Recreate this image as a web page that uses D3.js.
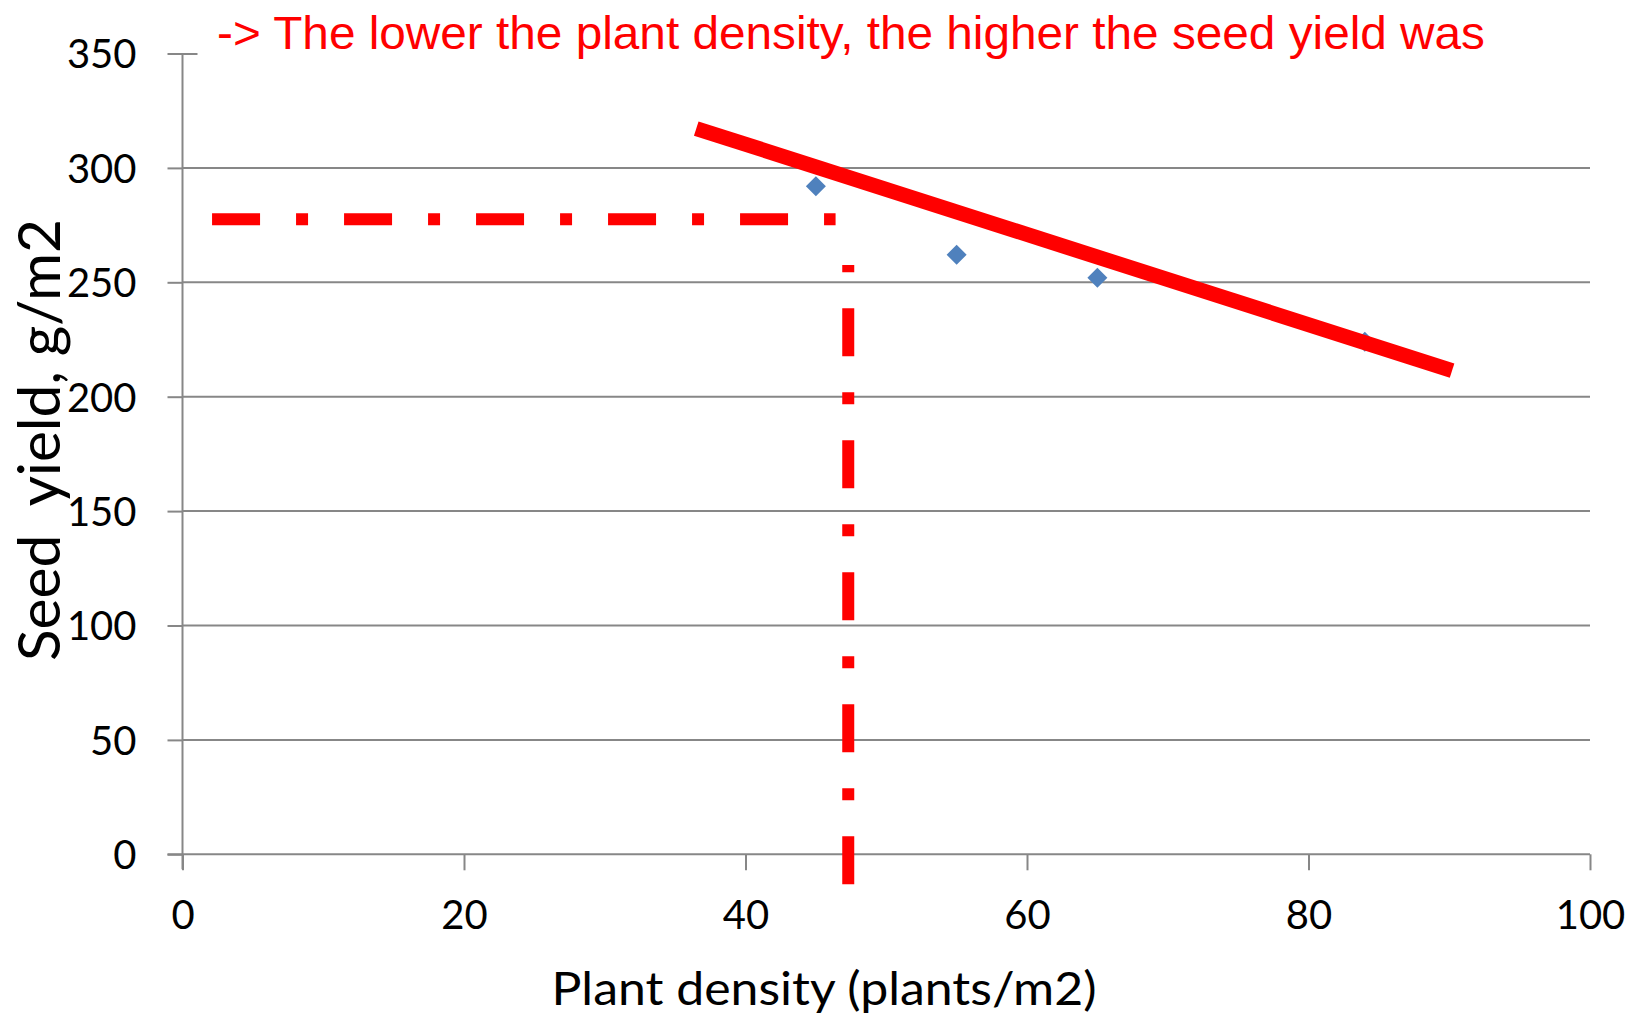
<!DOCTYPE html>
<html>
<head>
<meta charset="utf-8">
<script src="https://cdn.jsdelivr.net/npm/d3@7"></script>
<style>
  html, body { margin: 0; padding: 0; background: #ffffff; }
  svg { display: block; }
</style>
</head>
<body>
<svg id="chart" width="1633" height="1015"></svg>
<script>
// ---- data ----
const densities = [45, 55, 65, 84];          // plants/m2
const yields = [292, 262, 252, 224];         // g/m2
const xTicks = [0, 20, 40, 60, 80, 100];
const yTicks = [0, 50, 100, 150, 200, 250, 300, 350];
const trendX = [36.5, 90.2];
const trendY = [317.2, 211.4];
const guideHX = [2.1, 46.4];
const guideHY = [277.6, 277.6];
const guideVX = [47.3, 47.3];
const guideVY = [-13.1, 257.6];
const titleText = "-> The lower the plant density, the higher the seed yield was";
const xTitle = "Plant density (plants/m2)";
const yTitle = "Seed  yield, g/m2";

// ---- layout ----
const svg = d3.select("#chart");
svg.append("rect").attr("width", 1633).attr("height", 1015).attr("fill", "#ffffff");

const x = d3.scaleLinear().domain([0, 100]).range([182.5, 1590]);
const y = d3.scaleLinear().domain([0, 350]).range([854.3, 53.5]);
const axisColor = "#878787";
const labelFont = "Lato, 'Open Sans', sans-serif";

// gridlines (0..300)
svg.append("g").selectAll("line")
  .data(yTicks.filter(v => v > 0 && v < 350))
  .join("line")
  .attr("x1", x(0)).attr("x2", x(100))
  .attr("y1", d => y(d)).attr("y2", d => y(d))
  .attr("stroke", axisColor).attr("stroke-width", 2);

// y axis
const yAxis = svg.append("g")
  .attr("transform", `translate(${x(0)},0)`)
  .call(d3.axisLeft(y).tickValues(yTicks).tickSize(15).tickSizeOuter(0).tickPadding(31));
yAxis.select(".domain").attr("stroke", axisColor).attr("stroke-width", 2)
  .attr("d", `M0,${y(350)}V${y(0) + 15}`);
yAxis.selectAll(".tick line").attr("stroke", axisColor).attr("stroke-width", 2);
yAxis.selectAll(".tick").filter(d => d === 350).select("line").attr("x2", 15).attr("x1", -15);
yAxis.selectAll(".tick text")
  .attr("font-family", labelFont).attr("font-size", 40).attr("fill", "#000")
  .attr("dy", "0.36em");

// x axis
const xAxis = svg.append("g")
  .attr("transform", `translate(0,${y(0)})`)
  .call(d3.axisBottom(x).tickValues(xTicks).tickSize(16).tickSizeOuter(0).tickPadding(30));
xAxis.select(".domain").attr("stroke", axisColor).attr("stroke-width", 2)
  .attr("d", `M${x(0) - 15},0H${x(100)}`);
xAxis.selectAll(".tick line").attr("stroke", axisColor).attr("stroke-width", 2);
xAxis.selectAll(".tick text")
  .attr("font-family", labelFont).attr("font-size", 40).attr("fill", "#000")
  .attr("dy", "0.71em");

// data points (diamonds)
svg.append("g").selectAll("path")
  .data(densities.map((d, i) => [d, yields[i]]))
  .join("path")
  .attr("d", d3.symbol().type(d3.symbolSquare).size(200))
  .attr("transform", d => `translate(${x(d[0])},${y(d[1])}) rotate(45)`)
  .attr("fill", "#4F81BD");

// guide lines (dash-dot)
const line = d3.line().x(d => x(d[0])).y(d => y(d[1]));
svg.append("path")
  .datum(guideHX.map((v, i) => [v, guideHY[i]]))
  .attr("d", line)
  .attr("fill", "none").attr("stroke", "#FF0000").attr("stroke-width", 12)
  .attr("stroke-dasharray", "48,36,12,36");
svg.append("path")
  .datum(guideVX.map((v, i) => [v, guideVY[i]]))
  .attr("d", line)
  .attr("fill", "none").attr("stroke", "#FF0000").attr("stroke-width", 12)
  .attr("stroke-dasharray", "48,36,12,36");

// trend line
svg.append("path")
  .datum(trendX.map((v, i) => [v, trendY[i]]))
  .attr("d", line)
  .attr("fill", "none").attr("stroke", "#FF0000").attr("stroke-width", 15)
  .attr("stroke-linecap", "butt");

// title annotation
svg.append("text")
  .attr("x", 217).attr("y", 49)
  .attr("font-family", "'Liberation Sans', Arial, sans-serif")
  .attr("font-size", 47).attr("fill", "#FF0000")
  .attr("textLength", 1268).attr("lengthAdjust", "spacingAndGlyphs")
  .text(titleText);

// axis titles
svg.append("text")
  .attr("x", 824).attr("y", 1005)
  .attr("text-anchor", "middle")
  .attr("font-family", labelFont).attr("font-size", 46).attr("fill", "#000")
  .attr("textLength", 545).attr("lengthAdjust", "spacingAndGlyphs")
  .text(xTitle);

svg.append("text")
  .attr("transform", `translate(60,440) rotate(-90)`)
  .attr("text-anchor", "middle")
  .attr("font-family", labelFont).attr("font-size", 58).attr("fill", "#000")
  .attr("textLength", 442).attr("lengthAdjust", "spacingAndGlyphs")
  .style("white-space", "pre")
  .text(yTitle);
</script>
</body>
</html>
